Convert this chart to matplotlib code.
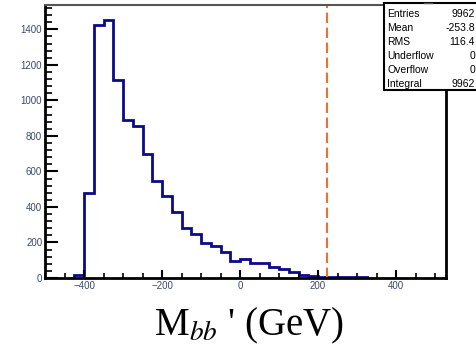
import numpy as np
import matplotlib
matplotlib.use("Agg")
import matplotlib.pyplot as plt
from matplotlib.patches import Rectangle
from matplotlib.ticker import MultipleLocator

# histogram of M_bb' (bin width 25 GeV)
edges = np.arange(-425, 350, 25)
counts = [17, 480, 1425, 1453, 1115, 890, 858, 698, 546, 462, 373, 283, 246,
          199, 180, 145, 94, 105, 83, 83, 60, 49, 32, 17, 11, 7, 5, 5, 5, 5]
cut_x = 222

stat_names = ["Entries", "Mean", "RMS", "Underflow", "Overflow", "Integral"]
stat_values = ["9962", "-253.8", "116.4", "0", "0", "9962"]

plt.rcParams["mathtext.fontset"] = "stix"

fig = plt.figure(figsize=(4.77, 3.47), dpi=100)
ax = fig.add_axes([45 / 477, 1 - 278 / 347, (446 - 45) / 477, (278 - 5) / 347])

ax.stairs(counts, edges, color="#0a0a8c", lw=2, baseline=0)
ax.axvline(cut_x, color="#f07030", lw=1.5, linestyle=(0, (5, 2.2)))

ax.set_xlim(-500, 528)
ax.set_ylim(0, 1537)

ax.xaxis.set_major_locator(MultipleLocator(200))
ax.xaxis.set_minor_locator(MultipleLocator(50))
ax.yaxis.set_major_locator(MultipleLocator(200))
ax.yaxis.set_minor_locator(MultipleLocator(40))

label_color = "#3c4a6e"
ax.tick_params(axis="x", which="major", direction="in", length=6, width=1.5,
               labelsize=7, pad=2, labelcolor=label_color)
ax.tick_params(axis="x", which="minor", direction="in", length=3.5, width=1.2)
ax.tick_params(axis="y", which="major", direction="in", length=9.5, width=1.5,
               labelsize=7, pad=2, labelcolor=label_color)
ax.tick_params(axis="y", which="minor", direction="in", length=5, width=1.2)
for lab in ax.get_xticklabels() + ax.get_yticklabels():
    lab.set_family("Liberation Sans")

for side in ["left", "bottom", "right"]:
    ax.spines[side].set_linewidth(2)
ax.spines["top"].set_linewidth(1.5)
ax.spines["top"].set_color("#555555")

# x axis title
fig.text(249 / 477, 12 / 347, r"M$_{bb}$ ' (GeV)", ha="center", va="baseline",
         fontsize=28, family="Liberation Serif")

# stats box, running off the right edge of the figure
bx0, by0 = 384 / 477, 1 - 90 / 347
fig.patches.append(Rectangle((bx0, by0), 0.3, 87 / 347, transform=fig.transFigure,
                             facecolor="white", edgecolor="black", lw=1.5, zorder=5))
fig.lines.append(plt.Line2D([424 / 477, 432 / 477], [1 - 3 / 347, 1 - 3 / 347],
                            transform=fig.transFigure, color="#555555", lw=1, zorder=6))
for i, (name, val) in enumerate(zip(stat_names, stat_values)):
    yy = 1 - (14 + i * 14) / 347
    fig.text(387 / 477, yy, name, fontsize=7.5, va="center", ha="left",
             family="Liberation Sans", zorder=7)
    fig.text(475 / 477, yy, val, fontsize=7.5, va="center", ha="right",
             family="Liberation Sans", zorder=7)

fig.savefig("out.png", dpi=100)
